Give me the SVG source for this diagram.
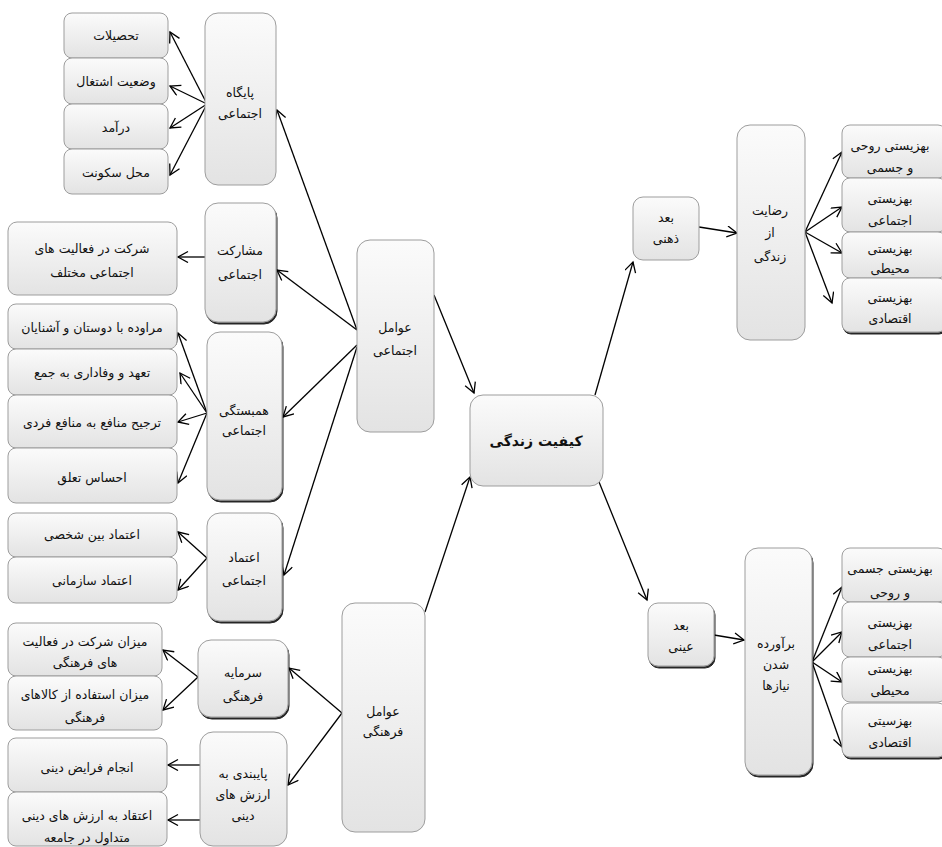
<svg xmlns="http://www.w3.org/2000/svg" width="942" height="847" viewBox="0 0 942 847">
<defs>
<linearGradient id="g" x1="0" y1="0" x2="0" y2="1">
<stop offset="0" stop-color="#fbfbfb"/>
<stop offset="1" stop-color="#e3e3e3"/>
</linearGradient>
<filter id="sh" x="-10%" y="-10%" width="130%" height="130%">
<feDropShadow dx="1" dy="2" stdDeviation="0.7" flood-color="#000" flood-opacity="0.85"/>
</filter>
<marker id="a" markerUnits="userSpaceOnUse" markerWidth="14" markerHeight="14" refX="11" refY="6" orient="auto">
<path d="M1,0.5 L11,6 L1,11.5" fill="none" stroke="#000" stroke-width="1.3"/>
</marker>
</defs>
<style>
rect{fill:url(#g);stroke:#9d9d9d;stroke-width:1}
.s{filter:url(#sh)}
text{font-family:"DejaVu Sans","Noto Sans",sans-serif;font-size:12.5px;fill:#111;text-anchor:middle;dominant-baseline:central}
.b{font-weight:bold;font-size:14px}
#edges line{stroke:#000;stroke-width:1.3;marker-end:url(#a)}
</style>
<rect width="942" height="847" style="fill:#fff;stroke:none"/>

<g id="edges">
<line x1="207" y1="104" x2="170" y2="32"/>
<line x1="207" y1="104" x2="170" y2="86"/>
<line x1="207" y1="104" x2="170" y2="128"/>
<line x1="207" y1="104" x2="170" y2="175"/>
<line x1="205" y1="257" x2="178" y2="257"/>
<line x1="207" y1="413" x2="178" y2="333"/>
<line x1="207" y1="413" x2="180" y2="373"/>
<line x1="207" y1="413" x2="178" y2="422"/>
<line x1="207" y1="413" x2="178" y2="483"/>
<line x1="207" y1="558" x2="178" y2="532"/>
<line x1="207" y1="558" x2="178" y2="590"/>
<line x1="198" y1="677" x2="163" y2="650"/>
<line x1="198" y1="677" x2="163" y2="710"/>
<line x1="200" y1="765" x2="168" y2="765"/>
<line x1="200" y1="820" x2="168" y2="820"/>
<line x1="357" y1="330" x2="277" y2="110"/>
<line x1="357" y1="330" x2="277" y2="270"/>
<line x1="357" y1="345" x2="283" y2="417"/>
<line x1="357" y1="347" x2="284" y2="575"/>
<line x1="342" y1="713" x2="289" y2="668"/>
<line x1="342" y1="713" x2="288" y2="785"/>
<line x1="434" y1="295" x2="474" y2="393"/>
<line x1="425" y1="612" x2="470" y2="477"/>
<line x1="595" y1="395" x2="633" y2="262"/>
<line x1="597" y1="477" x2="647" y2="600"/>
<line x1="699" y1="227" x2="737" y2="233"/>
<line x1="714" y1="635" x2="744" y2="640"/>
<line x1="805" y1="232" x2="842" y2="152"/>
<line x1="805" y1="232" x2="842" y2="207"/>
<line x1="805" y1="232" x2="842" y2="253"/>
<line x1="805" y1="232" x2="832" y2="303"/>
<line x1="812" y1="662" x2="842" y2="587"/>
<line x1="812" y1="662" x2="842" y2="632"/>
<line x1="812" y1="662" x2="842" y2="682"/>
<line x1="812" y1="662" x2="842" y2="747"/>
</g>

<g id="n-tahsilat"><rect x="64" y="13" width="104" height="45" rx="8"/><text x="116" y="35">تحصیلات</text></g>
<g id="n-vaziat"><rect x="64" y="58" width="104" height="46" rx="8"/><text x="116" y="81">وضعیت اشتغال</text></g>
<g id="n-daramad"><rect x="64" y="104" width="104" height="45" rx="8"/><text x="116" y="127">درآمد</text></g>
<g id="n-mahal"><rect x="64" y="149" width="104" height="45" rx="8"/><text x="116" y="172">محل سکونت</text></g>
<g id="n-paygah"><rect x="205" y="13" width="71" height="172" rx="13"/><text x="240" y="92">پایگاه</text><text x="240" y="113">اجتماعی</text></g>

<g id="n-sherkat"><rect x="8" y="222" width="169" height="73" rx="9"/><text x="92" y="248">شرکت در فعالیت های</text><text x="92" y="272">اجتماعی مختلف</text></g>
<g id="n-mosharekat"><rect class="s" x="205" y="203" width="71" height="119" rx="13"/><text x="240" y="250">مشارکت</text><text x="240" y="274">اجتماعی</text></g>

<g id="n-moravede"><rect x="8" y="304" width="169" height="45" rx="8"/><text x="92" y="327">مراوده با دوستان و آشنایان</text></g>
<g id="n-tahod"><rect x="8" y="349" width="169" height="46" rx="8"/><text x="92" y="372">تعهد و وفاداری به جمع</text></g>
<g id="n-tarjih"><rect x="8" y="395" width="169" height="53" rx="8"/><text x="92" y="422">ترجیح منافع به منافع فردی</text></g>
<g id="n-ehsas"><rect x="8" y="448" width="169" height="55" rx="8"/><text x="92" y="477">احساس تعلق</text></g>
<g id="n-hambastegi"><rect class="s" x="207" y="332" width="75" height="168" rx="13"/><text x="244" y="410">همبستگی</text><text x="244" y="430">اجتماعی</text></g>

<g id="n-etemad-bein"><rect x="8" y="513" width="169" height="44" rx="8"/><text x="92" y="534">اعتماد بین شخصی</text></g>
<g id="n-etemad-sazmani"><rect x="8" y="557" width="169" height="46" rx="8"/><text x="92" y="580">اعتماد سازمانی</text></g>
<g id="n-etemad"><rect class="s" x="207" y="513" width="75" height="108" rx="13"/><text x="244" y="557">اعتماد</text><text x="244" y="580">اجتماعی</text></g>

<g id="n-mizan-sherkat"><rect x="8" y="623" width="154" height="53" rx="8"/><text x="85" y="641">میزان شرکت در فعالیت</text><text x="85" y="662">های فرهنگی</text></g>
<g id="n-mizan-estefade"><rect x="8" y="676" width="154" height="54" rx="8"/><text x="85" y="694">میزان استفاده از کالاهای</text><text x="85" y="717">فرهنگی</text></g>
<g id="n-sarmaye"><rect class="s" x="198" y="640" width="90" height="77" rx="13"/><text x="243" y="672">سرمایه</text><text x="243" y="696">فرهنگی</text></g>

<g id="n-anjam"><rect x="8" y="738" width="159" height="54" rx="8"/><text x="87" y="767">انجام فرایض دینی</text></g>
<g id="n-eteghad"><rect x="8" y="792" width="159" height="54" rx="8"/><text x="87" y="815">اعتقاد به ارزش های دینی</text><text x="87" y="837">متداول در جامعه</text></g>
<g id="n-paybandi"><rect x="200" y="732" width="87" height="114" rx="13"/><text x="243" y="773">پایبندی به</text><text x="243" y="794">ارزش های</text><text x="243" y="815">دینی</text></g>

<g id="n-avamel-ejtemaei"><rect x="357" y="240" width="77" height="192" rx="13"/><text x="395" y="327">عوامل</text><text x="395" y="350">اجتماعی</text></g>
<g id="n-avamel-farhangi"><rect x="342" y="603" width="83" height="229" rx="13"/><text x="383" y="711">عوامل</text><text x="383" y="731">فرهنگی</text></g>

<g id="n-keyfiat"><rect x="470" y="395" width="133" height="91" rx="13"/><text class="b" x="536" y="441">کیفیت زندگی</text></g>

<g id="n-zehni"><rect x="633" y="197" width="66" height="63" rx="10"/><text x="666" y="217">بعد</text><text x="666" y="238">ذهنی</text></g>
<g id="n-rezayat"><rect x="737" y="125" width="68" height="215" rx="13"/><text x="770" y="210">رضایت</text><text x="770" y="232">از</text><text x="770" y="256">زندگی</text></g>
<g id="n-r1"><rect x="842" y="125" width="104" height="53" rx="8"/><text x="890" y="145">بهزیستی روحی</text><text x="890" y="167">و جسمی</text></g>
<g id="n-r2"><rect x="842" y="178" width="104" height="54" rx="8"/><text x="890" y="198">بهزیستی</text><text x="890" y="220">اجتماعی</text></g>
<g id="n-r3"><rect x="842" y="232" width="104" height="46" rx="8"/><text x="890" y="248">بهزیستی</text><text x="890" y="268">محیطی</text></g>
<g id="n-r4"><rect class="s" x="842" y="278" width="104" height="54" rx="8"/><text x="890" y="297">بهزیستی</text><text x="890" y="318">اقتصادی</text></g>

<g id="n-eini"><rect class="s" x="648" y="603" width="66" height="63" rx="10"/><text x="681" y="625">بعد</text><text x="681" y="646">عینی</text></g>
<g id="n-baravarde"><rect class="s" x="745" y="548" width="67" height="227" rx="13"/><text x="776" y="643">برآورده</text><text x="776" y="664">شدن</text><text x="776" y="685">نیازها</text></g>
<g id="n-o1"><rect x="842" y="548" width="104" height="54" rx="8"/><text x="890" y="568">بهزیستی جسمی</text><text x="890" y="592">و روحی</text></g>
<g id="n-o2"><rect x="842" y="602" width="104" height="55" rx="8"/><text x="890" y="622">بهزیستی</text><text x="890" y="644">اجتماعی</text></g>
<g id="n-o3"><rect x="842" y="657" width="104" height="45" rx="8"/><text x="890" y="668">بهزیستی</text><text x="890" y="690">محیطی</text></g>
<g id="n-o4"><rect class="s" x="842" y="703" width="104" height="54" rx="8"/><text x="890" y="720">بهزسیتی</text><text x="890" y="742">اقتصادی</text></g>
</svg>
